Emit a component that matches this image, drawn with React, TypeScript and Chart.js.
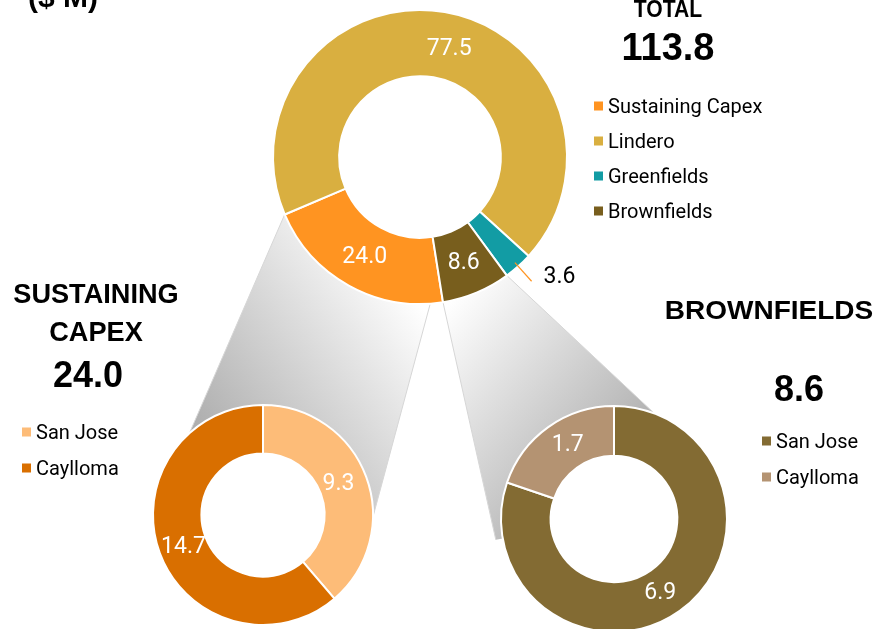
import React, { useEffect, useRef } from "react";
import { Chart, registerables } from "chart.js";

Chart.register(...registerables);

// ---------- data ----------
const totalLabels = ["Sustaining Capex", "Lindero", "Greenfields", "Brownfields"];
const totalValues = [24.0, 77.5, 3.6, 8.6];
const totalColors = ["#FF9421", "#D9AF40", "#129CA4", "#785E1D"];
const totalTitle = "TOTAL";
const totalSum = "113.8";
const unitLabel = "($ M)";

const sustainingLabels = ["San Jose", "Caylloma"];
const sustainingValues = [9.3, 14.7];
const sustainingColors = ["#FDBC78", "#D96F00"];
const sustainingTitle = ["SUSTAINING", "CAPEX"];
const sustainingSum = "24.0";

const brownfieldsLabels = ["San Jose", "Caylloma"];
const brownfieldsValues = [6.9, 1.7];
const brownfieldsColors = ["#836B33", "#B49372"];
const brownfieldsTitle = "BROWNFIELDS";
const brownfieldsSum = "8.6";

// ---------- layout ----------
const W = 877;
const H = 629;
const TOP = { cx: 420, cy: 157, r: 147, cutout: "55%", rotation: 171 };
const LEFT_SUB = { cx: 263, cy: 515, r: 110, cutout: "56%" };
const RIGHT_SUB = { cx: 614, cy: 519, r: 113, cutout: "56%" };
const SUB_CANVAS = 240;
// small label nudges (pixels) per slice, [dx, dy]
const TOP_NUDGE: Record<number, number[]> = { 1: [10, 4] };
const LEFT_NUDGE: Record<number, number[]> = { 0: [-5, -2], 1: [1, 2] };
const RIGHT_NUDGE: Record<number, number[]> = { 0: [-5, 2], 1: [5, -3] };

const BOLD = "'Liberation Sans', Arial, sans-serif";
const REG = "Roboto, 'Noto Sans', sans-serif";

function drawText(
  ctx: CanvasRenderingContext2D,
  text: string,
  x: number,
  y: number,
  font: string,
  align: CanvasTextAlign,
  color: string,
  sx = 1
) {
  ctx.save();
  ctx.font = font;
  ctx.fillStyle = color;
  ctx.textAlign = align;
  ctx.textBaseline = "alphabetic";
  ctx.translate(x, y);
  ctx.scale(sx, 1);
  ctx.fillText(text, 0, 0);
  ctx.restore();
}

function drawLegend(
  ctx: CanvasRenderingContext2D,
  labels: string[],
  colors: string[],
  x: number,
  y0: number,
  gap: number
) {
  labels.forEach((lab, i) => {
    const cy = y0 + i * gap;
    ctx.fillStyle = colors[i];
    ctx.fillRect(x, cy - 4.5, 9, 9);
    drawText(ctx, lab, x + 14, cy + 7, `20px ${REG}`, "left", "#000");
  });
}

// value labels drawn at arc centres
function valueLabelPlugin(outside: number[], nudge: Record<number, number[]>) {
  return {
    id: "valueLabels",
    afterDatasetsDraw(chart: any) {
      const ctx = chart.ctx as CanvasRenderingContext2D;
      const meta = chart.getDatasetMeta(0);
      const ds = chart.data.datasets[0];
      meta.data.forEach((arc: any, i: number) => {
        const v = (ds.data[i] as number).toFixed(1);
        if (outside.includes(i)) {
          const mid = (arc.startAngle + arc.endAngle) / 2;
          const r0 = arc.outerRadius - 5;
          const r1 = arc.outerRadius + 20;
          const x0 = arc.x + Math.cos(mid) * r0;
          const y0 = arc.y + Math.sin(mid) * r0;
          const x1 = arc.x + Math.cos(mid) * r1;
          const y1 = arc.y + Math.sin(mid) * r1;
          ctx.save();
          ctx.strokeStyle = ds.backgroundColor[0];
          ctx.lineWidth = 1.2;
          ctx.beginPath();
          ctx.moveTo(x0, y0);
          ctx.lineTo(x1, y1);
          ctx.stroke();
          ctx.restore();
          drawText(ctx, v, x1 + 12, y1 + 2, `23px ${REG}`, "left", "#000");
        } else {
          const p = arc.getCenterPoint();
          const n = nudge[i] || [0, 0];
          ctx.save();
          ctx.font = `23px ${REG}`;
          ctx.fillStyle = "#fff";
          ctx.textAlign = "center";
          ctx.textBaseline = "middle";
          ctx.fillText(v, p.x + n[0], p.y + 1 + n[1]);
          ctx.restore();
        }
      });
    },
  };
}

// gradient connectors from the top doughnut to the two detail doughnuts
const connectorPlugin = {
  id: "connectors",
  beforeDatasetsDraw(chart: any) {
    const ctx = chart.ctx as CanvasRenderingContext2D;
    const meta = chart.getDatasetMeta(0);
    const sus = meta.data[0];
    const bro = meta.data[3];
    const pt = (arc: any, a: number, r = arc.outerRadius) => [
      arc.x + Math.cos(a) * r,
      arc.y + Math.sin(a) * r,
    ];
    const deg = Math.PI / 180;

    // left connector
    const a1 = pt(sus, sus.endAngle);
    const a2 = pt(sus, sus.startAngle + 5 * deg);
    const la = -132 * deg;
    const lb = 1 * deg;
    const l1 = [LEFT_SUB.cx + Math.cos(la) * LEFT_SUB.r, LEFT_SUB.cy + Math.sin(la) * LEFT_SUB.r];
    const l2 = [LEFT_SUB.cx + Math.cos(lb) * LEFT_SUB.r, LEFT_SUB.cy + Math.sin(lb) * LEFT_SUB.r];
    ctx.save();
    let g = ctx.createLinearGradient(410, 290, 190, 450);
    g.addColorStop(0, "#ffffff");
    g.addColorStop(1, "#a8a8a8");
    ctx.fillStyle = g;
    ctx.beginPath();
    ctx.moveTo(a1[0], a1[1]);
    ctx.lineTo(l1[0], l1[1]);
    ctx.arc(LEFT_SUB.cx, LEFT_SUB.cy, LEFT_SUB.r, la, lb, false);
    ctx.lineTo(a2[0], a2[1]);
    ctx.closePath();
    ctx.fill();
    ctx.strokeStyle = "#d6d6d6";
    ctx.lineWidth = 1;
    ctx.beginPath();
    ctx.moveTo(a1[0], a1[1]);
    ctx.lineTo(l1[0], l1[1]);
    ctx.moveTo(a2[0], a2[1]);
    ctx.lineTo(l2[0], l2[1]);
    ctx.stroke();

    // right connector
    const b1 = pt(bro, bro.endAngle);
    const b2 = pt(bro, bro.startAngle);
    const ra = 170 * deg;
    const rb = 291 * deg;
    const r1 = [RIGHT_SUB.cx + Math.cos(ra) * (RIGHT_SUB.r + 7), RIGHT_SUB.cy + Math.sin(ra) * (RIGHT_SUB.r + 7)];
    const r2 = [RIGHT_SUB.cx + Math.cos(rb) * RIGHT_SUB.r, RIGHT_SUB.cy + Math.sin(rb) * RIGHT_SUB.r];
    g = ctx.createLinearGradient(460, 290, 640, 440);
    g.addColorStop(0, "#ffffff");
    g.addColorStop(1, "#b0b0b0");
    ctx.fillStyle = g;
    ctx.beginPath();
    ctx.moveTo(b1[0], b1[1]);
    ctx.lineTo(r1[0], r1[1]);
    ctx.arc(RIGHT_SUB.cx, RIGHT_SUB.cy, RIGHT_SUB.r, ra, rb, false);
    ctx.lineTo(b2[0], b2[1]);
    ctx.closePath();
    ctx.fill();
    ctx.beginPath();
    ctx.moveTo(b1[0], b1[1]);
    ctx.lineTo(r1[0], r1[1]);
    ctx.moveTo(b2[0], b2[1]);
    ctx.lineTo(r2[0], r2[1]);
    ctx.stroke();
    ctx.restore();
  },
};

// titles and legends
const textPlugin = {
  id: "texts",
  afterDraw(chart: any) {
    const ctx = chart.ctx as CanvasRenderingContext2D;
    drawText(ctx, unitLabel, 28, 7, `bold 30px ${BOLD}`, "left", "#000");
    drawText(ctx, totalTitle, 668, 17, `bold 24px ${BOLD}`, "center", "#000", 0.88);
    drawText(ctx, totalSum, 668, 60, `bold 38px ${BOLD}`, "center", "#000");
    drawLegend(ctx, totalLabels, totalColors, 594, 106, 35);

    drawText(ctx, sustainingTitle[0], 96, 303, `bold 28px ${BOLD}`, "center", "#000", 0.97);
    drawText(ctx, sustainingTitle[1], 96, 341, `bold 28px ${BOLD}`, "center", "#000", 0.97);
    drawText(ctx, sustainingSum, 88, 387, `bold 36px ${BOLD}`, "center", "#000");
    drawLegend(ctx, sustainingLabels, sustainingColors, 22, 432, 36);

    drawText(ctx, brownfieldsTitle, 769, 319, `bold 25px ${BOLD}`, "center", "#000", 1.12);
    drawText(ctx, brownfieldsSum, 799, 401, `bold 36px ${BOLD}`, "center", "#000");
    drawLegend(ctx, brownfieldsLabels, brownfieldsColors, 762, 441, 36);
  },
};

function doughnutConfig(
  labels: string[],
  values: number[],
  colors: string[],
  radius: number,
  cutout: string,
  rotation: number,
  plugins: any[],
  padding: any
): any {
  return {
    type: "doughnut",
    data: {
      labels,
      datasets: [
        {
          data: values,
          backgroundColor: colors,
          borderColor: "#ffffff",
          borderWidth: 2,
          hoverOffset: 0,
        },
      ],
    },
    options: {
      responsive: false,
      maintainAspectRatio: false,
      animation: false,
      devicePixelRatio: 1,
      radius,
      cutout,
      rotation,
      layout: { padding },
      events: [],
      plugins: { legend: { display: false }, tooltip: { enabled: false } },
    },
    plugins,
  };
}

export default function App() {
  const topRef = useRef<HTMLCanvasElement>(null);
  const leftRef = useRef<HTMLCanvasElement>(null);
  const rightRef = useRef<HTMLCanvasElement>(null);

  useEffect(() => {
    document.body.style.margin = "0";
    const top = new Chart(
      topRef.current!,
      doughnutConfig(
        totalLabels,
        totalValues,
        totalColors,
        TOP.r,
        TOP.cutout,
        TOP.rotation,
        [connectorPlugin, valueLabelPlugin([2], TOP_NUDGE), textPlugin],
        {
          left: TOP.cx - 150,
          right: W - TOP.cx - 150,
          top: TOP.cy - 150,
          bottom: H - TOP.cy - 150,
        }
      )
    );
    const left = new Chart(
      leftRef.current!,
      doughnutConfig(sustainingLabels, sustainingValues, sustainingColors, LEFT_SUB.r, LEFT_SUB.cutout, 0, [valueLabelPlugin([], LEFT_NUDGE)], 0)
    );
    const right = new Chart(
      rightRef.current!,
      doughnutConfig(brownfieldsLabels, brownfieldsValues, brownfieldsColors, RIGHT_SUB.r, RIGHT_SUB.cutout, 0, [valueLabelPlugin([], RIGHT_NUDGE)], 0)
    );
    return () => {
      top.destroy();
      left.destroy();
      right.destroy();
    };
  }, []);

  const abs = (l: number, t: number): React.CSSProperties => ({ position: "absolute", left: l, top: t });

  return (
    <div style={{ position: "fixed", left: 0, top: 0, width: W, height: H, overflow: "hidden", background: "#fff" }}>
      <canvas ref={topRef} width={W} height={H} style={abs(0, 0)} />
      <canvas
        ref={leftRef}
        width={SUB_CANVAS}
        height={SUB_CANVAS}
        style={abs(LEFT_SUB.cx - SUB_CANVAS / 2, LEFT_SUB.cy - SUB_CANVAS / 2)}
      />
      <canvas
        ref={rightRef}
        width={SUB_CANVAS}
        height={SUB_CANVAS}
        style={abs(RIGHT_SUB.cx - SUB_CANVAS / 2, RIGHT_SUB.cy - SUB_CANVAS / 2)}
      />
    </div>
  );
}
